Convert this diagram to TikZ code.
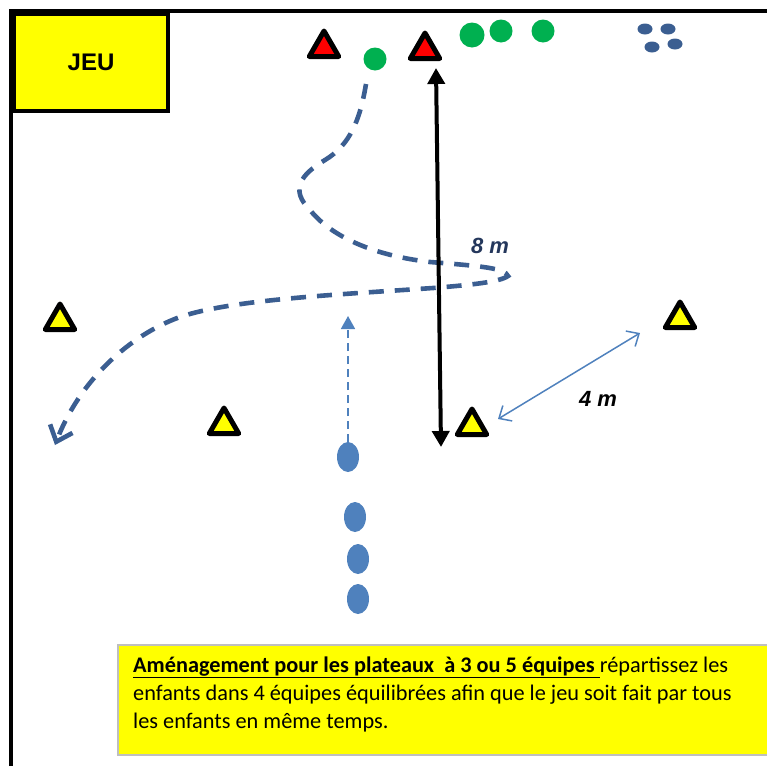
\documentclass[tikz,border=0pt]{standalone}
\usepackage{fontspec}
\setmainfont{Carlito}
\newfontfamily\arialf{Liberation Sans}
\usetikzlibrary{shapes.geometric,arrows.meta}
\definecolor{yel}{RGB}{255,255,0}
\definecolor{grn}{RGB}{0,176,80}
\definecolor{dblue}{RGB}{59,94,145}
\definecolor{lblue}{RGB}{79,129,189}
\definecolor{navy}{RGB}{36,55,92}
\definecolor{boxgray}{RGB}{191,191,191}
\begin{document}
\begin{tikzpicture}[x=1pt,y=-1pt,
  tri/.style={regular polygon, regular polygon sides=3, minimum size=34pt, inner sep=0pt, draw=black, line width=5pt, line join=round},
  ytri/.style={tri, fill=yel},
  rtri/.style={tri, fill=red},
  gdot/.style={circle, fill=grn, inner sep=0pt, minimum size=#1},
  bdot/.style={ellipse, fill=dblue, inner sep=0pt, minimum width=15pt, minimum height=11pt},
  player/.style={ellipse, fill=lblue, inner sep=0pt, minimum width=22pt, minimum height=30pt},
  runpath/.style={draw=dblue, line width=4.6pt, dash pattern=on 15pt off 11pt, -{Straight Barb[length=14pt,width=24pt]}},
  measure/.style={font=\arialf\bfseries\itshape\fontsize{22}{26}\selectfont},
  bodytext/.style={anchor=base west, inner sep=0pt, font=\fontsize{22.3}{28}\selectfont}
]
\useasboundingbox (0,0) rectangle (767,766);
% frame
\draw[line width=4.5pt] (11,766) -- (11,11) -- (767,11);
% JEU box
\node[draw, line width=4pt, fill=yel, minimum width=154pt, minimum height=97pt, inner sep=0pt, anchor=north west,
      font=\arialf\bfseries\fontsize{24}{28}\selectfont] (jeu) at (12,12) {JEU};
% red cones
\node[rtri] (r1) at (324,48) {};
\node[rtri] (r2) at (425,50) {};
% green dots
\node[gdot=23pt] (g1) at (375,59) {};
\node[gdot=25pt] (g2) at (472,35) {};
\node[gdot=23pt] (g3) at (501,31) {};
\node[gdot=23pt] (g4) at (543,31) {};
% small blue dots
\node[bdot] (b1) at (645,29) {};
\node[bdot] (b2) at (668,29) {};
\node[bdot] (b3) at (652,47) {};
\node[bdot] (b4) at (675,44) {};
% yellow cones
\node[ytri] (y1) at (60,321) {};
\node[ytri] (y2) at (224,425) {};
\node[ytri] (y3) at (472,426) {};
\node[ytri] (y4) at (680,319) {};
% players
\node[player] (p1) at (348,457) {};
\node[player] (p2) at (355,517) {};
\node[player] (p3) at (358,559) {};
\node[player] (p4) at (358,599) {};
% run path
\coordinate (runstart) at (366,84);
\coordinate (runend) at (55,445);
\draw[runpath] (runstart) .. controls (360,120) and (350,145) .. (325,160)
  .. controls (300,175) and (290,190) .. (310,210)
  .. controls (330,235) and (370,255) .. (430,262)
  .. controls (480,266) and (505,268) .. (508,276)
  .. controls (500,282) and (470,285) .. (433,288)
  .. controls (330,295) and (230,300) .. (180,317)
  .. controls (130,335) and (80,380) .. (runend);
% light blue dashed arrow
\coordinate (pa) at (348,442);
\coordinate (pb) at (348,316);
\draw[lblue, line width=1.6pt, dash pattern=on 8pt off 5pt, -{Triangle[length=13pt,width=14pt]}] (pa) -- (pb);
% 8 m black double arrow
\coordinate (ma) at (441,447);
\coordinate (mb) at (436,68);
\draw[line width=4pt, {Triangle[length=16pt,width=17pt]}-{Triangle[length=16pt,width=17pt]}] (ma) -- (mb);
\node[measure, text=navy] (l8) at (490,246) {8 m};
% 4 m thin double arrow
\coordinate (da) at (498,419);
\coordinate (db) at (640,333);
\draw[lblue, line width=1.5pt, {Straight Barb[length=10pt,width=18pt]}-{Straight Barb[length=10pt,width=18pt]}] (da) -- (db);
\node[measure] (l4) at (598,399) {4 m};
% text box
\fill[yel] (118,645) rectangle (767,755);
\draw[boxgray, line width=2pt] (767,645) -- (118,645) -- (118,755) -- (767,755);
\node[bodytext] (t1) at (133,672) {\underline{\textbf{Aménagement pour les plateaux\ \ à 3 ou 5 équipes\ }}répartissez les};
\node[bodytext] (t2) at (133,700) {enfants dans 4 équipes équilibrées afin que le jeu soit fait par tous};
\node[bodytext] (t3) at (133,728) {les enfants en même temps.};
\end{tikzpicture}
\end{document}
